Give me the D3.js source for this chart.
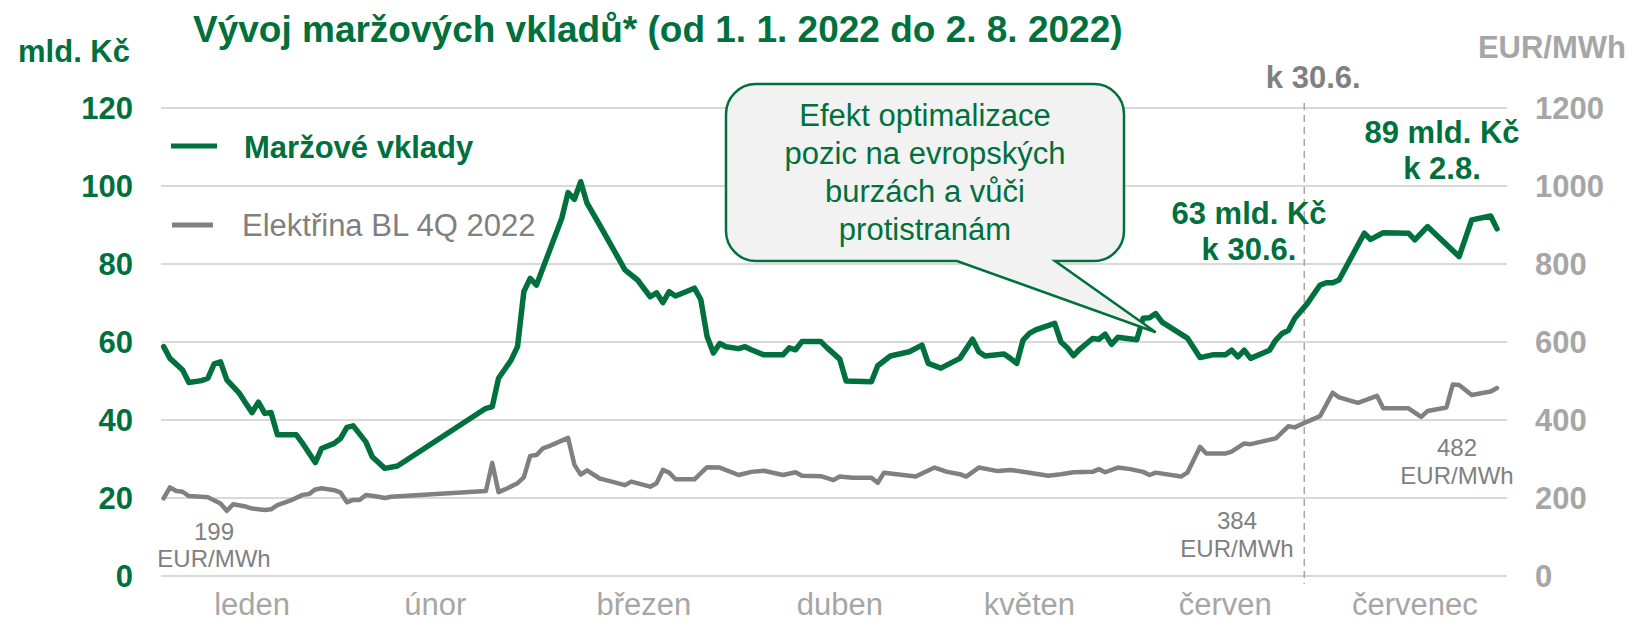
<!DOCTYPE html>
<html lang="cs">
<head>
<meta charset="utf-8">
<script src="https://cdn.jsdelivr.net/npm/d3@7"></script>
<style>
  html, body { margin: 0; padding: 0; background: #fff; }
  svg { display: block; }
  text { font-family: "Liberation Sans", Arial, Helvetica, sans-serif; }
</style>
</head>
<body>
<svg id="chart" width="1632" height="621"></svg>
<script>
// Month labels shown under the plot and the day each one is centred on
const monthLabels = ["leden", "únor", "březen", "duben", "květen", "červen", "červenec"];
const monthLabelDates = ["2022-01-17", "2022-02-15", "2022-03-20", "2022-04-20", "2022-05-20", "2022-06-20", "2022-07-20"];

// Axis ticks
const leftTicks = [0, 20, 40, 60, 80, 100, 120];          // mld. Kč
const rightTicks = [0, 200, 400, 600, 800, 1000, 1200];   // EUR/MWh

// Maržové vklady (mld. Kč)
const marginDeposits = [
  ["2022-01-03", 58.8], ["2022-01-04", 55.8], ["2022-01-06", 52.8], ["2022-01-07", 49.6],
  ["2022-01-09", 50.1], ["2022-01-10", 50.7], ["2022-01-11", 54.4], ["2022-01-12", 54.9],
  ["2022-01-13", 50.3], ["2022-01-15", 46.8], ["2022-01-16", 44.3], ["2022-01-17", 41.9],
  ["2022-01-18", 44.6], ["2022-01-19", 41.7], ["2022-01-20", 41.9], ["2022-01-21", 36.2],
  ["2022-01-24", 36.2], ["2022-01-25", 34.0], ["2022-01-27", 29.1], ["2022-01-28", 32.7],
  ["2022-01-30", 34.0], ["2022-01-31", 35.3], ["2022-02-01", 38.1], ["2022-02-02", 38.5],
  ["2022-02-04", 34.4], ["2022-02-05", 30.6], ["2022-02-06", 29.1], ["2022-02-07", 27.6],
  ["2022-02-09", 28.2], ["2022-02-23", 43.0], ["2022-02-24", 43.4], ["2022-02-25", 50.7],
  ["2022-02-27", 55.4], ["2022-02-28", 58.8], ["2022-03-01", 72.9], ["2022-03-02", 76.3],
  ["2022-03-03", 74.6], ["2022-03-07", 91.7], ["2022-03-08", 98.3], ["2022-03-09", 96.6],
  ["2022-03-10", 101.1], ["2022-03-11", 95.6], ["2022-03-13", 90.0], ["2022-03-17", 78.5],
  ["2022-03-19", 75.9], ["2022-03-21", 71.6], ["2022-03-22", 72.6], ["2022-03-23", 70.1],
  ["2022-03-24", 72.9], ["2022-03-25", 71.8], ["2022-03-28", 73.8], ["2022-03-29", 70.9],
  ["2022-03-30", 61.4], ["2022-03-31", 57.2], ["2022-04-01", 59.6], ["2022-04-02", 58.8],
  ["2022-04-04", 58.3], ["2022-04-05", 58.8], ["2022-04-06", 58.0], ["2022-04-08", 56.7],
  ["2022-04-11", 56.7], ["2022-04-12", 58.5], ["2022-04-13", 58.0], ["2022-04-14", 60.1],
  ["2022-04-17", 60.1], ["2022-04-18", 58.5], ["2022-04-20", 55.6], ["2022-04-21", 50.0],
  ["2022-04-25", 49.8], ["2022-04-26", 53.9], ["2022-04-28", 56.4], ["2022-05-01", 57.5],
  ["2022-05-03", 59.2], ["2022-05-04", 54.5], ["2022-05-06", 53.3], ["2022-05-09", 55.8],
  ["2022-05-11", 60.7], ["2022-05-12", 57.5], ["2022-05-13", 56.4], ["2022-05-16", 56.9],
  ["2022-05-17", 55.8], ["2022-05-18", 54.5], ["2022-05-19", 60.5], ["2022-05-20", 62.2],
  ["2022-05-21", 63.1], ["2022-05-24", 64.8], ["2022-05-25", 60.0], ["2022-05-26", 58.5],
  ["2022-05-27", 56.5], ["2022-05-28", 58.2], ["2022-05-30", 60.9], ["2022-05-31", 60.7],
  ["2022-06-01", 62.0], ["2022-06-02", 59.4], ["2022-06-03", 61.2], ["2022-06-06", 60.6],
  ["2022-06-07", 66.1], ["2022-06-08", 66.2], ["2022-06-09", 67.3], ["2022-06-10", 65.1],
  ["2022-06-14", 61.0], ["2022-06-16", 56.0], ["2022-06-18", 56.7], ["2022-06-20", 56.7],
  ["2022-06-21", 57.9], ["2022-06-22", 56.2], ["2022-06-23", 57.9], ["2022-06-24", 55.8],
  ["2022-06-27", 57.9], ["2022-06-28", 60.5], ["2022-06-29", 62.2], ["2022-06-30", 63.0],
  ["2022-07-01", 66.1], ["2022-07-03", 69.9], ["2022-07-05", 74.6], ["2022-07-06", 75.2],
  ["2022-07-07", 75.2], ["2022-07-08", 75.9], ["2022-07-12", 87.9], ["2022-07-13", 86.3],
  ["2022-07-15", 88.0], ["2022-07-19", 87.9], ["2022-07-20", 86.2], ["2022-07-22", 89.6],
  ["2022-07-27", 81.9], ["2022-07-29", 91.3], ["2022-08-01", 92.3], ["2022-08-02", 89.0]
];

// Elektřina BL 4Q 2022 (EUR/MWh)
const powerBL4Q22 = [
  ["2022-01-03", 199], ["2022-01-04", 227], ["2022-01-05", 218], ["2022-01-06", 216],
  ["2022-01-07", 205], ["2022-01-09", 203], ["2022-01-10", 202], ["2022-01-12", 186],
  ["2022-01-13", 167], ["2022-01-14", 184], ["2022-01-16", 178], ["2022-01-17", 173],
  ["2022-01-19", 169], ["2022-01-20", 171], ["2022-01-21", 182], ["2022-01-23", 193],
  ["2022-01-25", 208], ["2022-01-26", 210], ["2022-01-27", 222], ["2022-01-28", 225],
  ["2022-01-30", 220], ["2022-01-31", 214], ["2022-02-01", 189], ["2022-02-02", 195],
  ["2022-02-03", 195], ["2022-02-04", 208], ["2022-02-06", 203], ["2022-02-07", 200],
  ["2022-02-08", 203], ["2022-02-23", 218], ["2022-02-24", 290], ["2022-02-25", 215],
  ["2022-02-26", 222], ["2022-02-28", 238], ["2022-03-01", 253], ["2022-03-02", 308],
  ["2022-03-03", 310], ["2022-03-04", 327], ["2022-03-05", 333], ["2022-03-08", 354],
  ["2022-03-09", 285], ["2022-03-10", 260], ["2022-03-11", 271], ["2022-03-13", 250],
  ["2022-03-14", 246], ["2022-03-17", 233], ["2022-03-18", 242], ["2022-03-21", 229],
  ["2022-03-22", 238], ["2022-03-23", 272], ["2022-03-24", 265], ["2022-03-25", 248],
  ["2022-03-28", 248], ["2022-03-30", 279], ["2022-04-01", 278], ["2022-04-04", 259],
  ["2022-04-06", 267], ["2022-04-08", 270], ["2022-04-11", 259], ["2022-04-13", 266],
  ["2022-04-14", 257], ["2022-04-17", 256], ["2022-04-19", 246], ["2022-04-20", 255],
  ["2022-04-22", 252], ["2022-04-25", 252], ["2022-04-26", 239], ["2022-04-27", 265],
  ["2022-04-29", 261], ["2022-05-02", 255], ["2022-05-05", 278], ["2022-05-07", 267],
  ["2022-05-09", 261], ["2022-05-10", 255], ["2022-05-12", 278], ["2022-05-15", 269],
  ["2022-05-17", 272], ["2022-05-20", 265], ["2022-05-23", 257], ["2022-05-25", 261],
  ["2022-05-27", 266], ["2022-05-30", 267], ["2022-05-31", 274], ["2022-06-01", 266],
  ["2022-06-03", 278], ["2022-06-05", 274], ["2022-06-07", 267], ["2022-06-08", 259],
  ["2022-06-09", 265], ["2022-06-13", 255], ["2022-06-14", 265], ["2022-06-16", 331],
  ["2022-06-17", 314], ["2022-06-20", 314], ["2022-06-21", 319], ["2022-06-23", 340],
  ["2022-06-24", 338], ["2022-06-28", 353], ["2022-06-30", 384], ["2022-07-01", 381],
  ["2022-07-03", 396], ["2022-07-05", 410], ["2022-07-07", 470], ["2022-07-08", 458],
  ["2022-07-11", 444], ["2022-07-14", 462], ["2022-07-15", 430], ["2022-07-19", 430],
  ["2022-07-21", 408], ["2022-07-22", 423], ["2022-07-25", 432], ["2022-07-26", 491],
  ["2022-07-27", 490], ["2022-07-29", 464], ["2022-08-01", 473], ["2022-08-02", 482]
];

const GREEN = "#00703c";
const GREY_LINE = "#808080";
const GREY_AXIS = "#a6a6a6";
const GRID = "#d9d9d9";

const parse = d3.timeParse("%Y-%m-%d");
const margin = marginDeposits.map(([d, v]) => ({ date: parse(d), value: v }));
const power = powerBL4Q22.map(([d, v]) => ({ date: parse(d), value: v }));

const plotLeft = 161, plotRight = 1507;
const x = d3.scaleTime()
  .domain([parse("2022-01-01"), parse("2022-08-02")])
  .range([151, 1497]);
const yL = d3.scaleLinear().domain([0, 120]).range([576, 108]);
const yR = d3.scaleLinear().domain([0, 1200]).range([576, 108]);

const svg = d3.select("#chart");

// Horizontal gridlines
svg.append("g").selectAll("line").data(leftTicks).join("line")
  .attr("x1", plotLeft).attr("x2", plotRight)
  .attr("y1", d => yL(d)).attr("y2", d => yL(d))
  .attr("stroke", GRID).attr("stroke-width", 2);

// Left axis (mld. Kč)
const axL = svg.append("g").attr("transform", "translate(133,0)")
  .call(d3.axisLeft(yL).tickValues(leftTicks).tickSize(0).tickPadding(0).tickFormat(d3.format("d")));
axL.select(".domain").remove();
axL.selectAll("text")
  .attr("fill", GREEN).attr("font-size", 31).attr("font-weight", "bold")
  .attr("font-family", "Liberation Sans, Arial, sans-serif").attr("dy", "0.35em");

// Right axis (EUR/MWh)
const axR = svg.append("g").attr("transform", "translate(1535,0)")
  .call(d3.axisRight(yR).tickValues(rightTicks).tickSize(0).tickPadding(0).tickFormat(d3.format("d")));
axR.select(".domain").remove();
axR.selectAll("text")
  .attr("fill", GREY_AXIS).attr("font-size", 31).attr("font-weight", "bold")
  .attr("font-family", "Liberation Sans, Arial, sans-serif").attr("dy", "0.35em");

// Axis units
svg.append("text").attr("x", 130).attr("y", 62).attr("text-anchor", "end")
  .attr("fill", GREEN).attr("font-size", 31).attr("font-weight", "bold").text("mld. Kč");
svg.append("text").attr("x", 1626).attr("y", 58).attr("text-anchor", "end")
  .attr("fill", GREY_AXIS).attr("font-size", 31).attr("font-weight", "bold").text("EUR/MWh");

// Month labels
svg.append("g").selectAll("text").data(monthLabels).join("text")
  .attr("x", (d, i) => x(parse(monthLabelDates[i])))
  .attr("y", 615).attr("text-anchor", "middle")
  .attr("fill", GREY_AXIS).attr("font-size", 31).text(d => d);

// Title
svg.append("text").attr("x", 193).attr("y", 42)
  .attr("fill", GREEN).attr("font-size", 37).attr("font-weight", "bold")
  .text("Vývoj maržových vkladů* (od 1. 1. 2022 do 2. 8. 2022)");

// Separator at the end of June
const cutoff = new Date(2022, 6, 2, 12);
svg.append("line")
  .attr("x1", x(cutoff)).attr("x2", x(cutoff))
  .attr("y1", 103).attr("y2", 584)
  .attr("stroke", GREY_AXIS).attr("stroke-width", 1.5).attr("stroke-dasharray", "7,5");
svg.append("text").attr("x", x(cutoff) + 9).attr("y", 88).attr("text-anchor", "middle")
  .attr("fill", GREY_LINE).attr("font-size", 31).attr("font-weight", "bold").text("k 30.6.");

// Series lines
const lineL = d3.line().x(d => x(d.date)).y(d => yL(d.value));
const lineR = d3.line().x(d => x(d.date)).y(d => yR(d.value));

svg.append("path").datum(power)
  .attr("d", lineR).attr("fill", "none")
  .attr("stroke", GREY_LINE).attr("stroke-width", 4.5)
  .attr("stroke-linejoin", "round").attr("stroke-linecap", "round");

svg.append("path").datum(margin)
  .attr("d", lineL).attr("fill", "none")
  .attr("stroke", GREEN).attr("stroke-width", 5.5)
  .attr("stroke-linejoin", "round").attr("stroke-linecap", "round");

// Legend
const legend = svg.append("g");
legend.append("line").attr("x1", 171).attr("x2", 217).attr("y1", 146).attr("y2", 146)
  .attr("stroke", GREEN).attr("stroke-width", 5);
legend.append("text").attr("x", 244).attr("y", 158)
  .attr("fill", GREEN).attr("font-size", 31).attr("font-weight", "bold").text("Maržové vklady");
legend.append("line").attr("x1", 172).attr("x2", 213).attr("y1", 225).attr("y2", 225)
  .attr("stroke", GREY_LINE).attr("stroke-width", 5);
legend.append("text").attr("x", 242).attr("y", 236)
  .attr("fill", GREY_LINE).attr("font-size", 31).text("Elektřina BL 4Q 2022");

// Value annotations taken from the series
const fmt = d3.format(".0f");
const byDate = (arr, s) => arr.find(p => +p.date === +parse(s));
function twoLine(cx, y1, y2, l1, l2, color, size, weight) {
  const t = svg.append("text").attr("text-anchor", "middle")
    .attr("fill", color).attr("font-size", size).attr("font-weight", weight);
  t.append("tspan").attr("x", cx).attr("y", y1).text(l1);
  t.append("tspan").attr("x", cx).attr("y", y2).text(l2);
}
const pStart = power[0], pJune = byDate(power, "2022-06-30"), pEnd = power[power.length - 1];
const mJune = byDate(margin, "2022-06-30"), mEnd = margin[margin.length - 1];

twoLine(214, 540, 567, fmt(pStart.value), "EUR/MWh", GREY_LINE, 24, "normal");
twoLine(1237, 529, 557, fmt(pJune.value), "EUR/MWh", GREY_LINE, 24, "normal");
twoLine(1457, 456, 484, fmt(pEnd.value), "EUR/MWh", GREY_LINE, 24, "normal");
twoLine(1249, 224, 260, fmt(mJune.value) + " mld. Kč", "k 30.6.", GREEN, 31, "bold");
twoLine(1442, 143, 179, fmt(mEnd.value) + " mld. Kč", "k 2.8.", GREEN, 31, "bold");

// Callout with pointer
const box = { l: 726, r: 1124, t: 84, b: 261, rad: 30 };
const tip = [x(parse("2022-06-09")), yL(62.5)];
const p = d3.path();
p.moveTo(box.l + box.rad, box.t);
p.lineTo(box.r - box.rad, box.t);
p.arcTo(box.r, box.t, box.r, box.t + box.rad, box.rad);
p.lineTo(box.r, box.b - box.rad);
p.arcTo(box.r, box.b, box.r - box.rad, box.b, box.rad);
p.lineTo(1055, box.b);
p.lineTo(tip[0], tip[1]);
p.lineTo(957, box.b);
p.lineTo(box.l + box.rad, box.b);
p.arcTo(box.l, box.b, box.l, box.b - box.rad, box.rad);
p.lineTo(box.l, box.t + box.rad);
p.arcTo(box.l, box.t, box.l + box.rad, box.t, box.rad);
p.closePath();
svg.append("path").attr("d", p.toString())
  .attr("fill", "#f2f2f2").attr("stroke", GREEN).attr("stroke-width", 2.5)
  .attr("stroke-linejoin", "miter");

const calloutLines = ["Efekt optimalizace", "pozic na evropských", "burzách a vůči", "protistranám"];
svg.append("g").selectAll("text").data(calloutLines).join("text")
  .attr("x", 925).attr("y", (d, i) => 126 + i * 38)
  .attr("text-anchor", "middle").attr("fill", GREEN).attr("font-size", 31)
  .text(d => d);
</script>
</body>
</html>
